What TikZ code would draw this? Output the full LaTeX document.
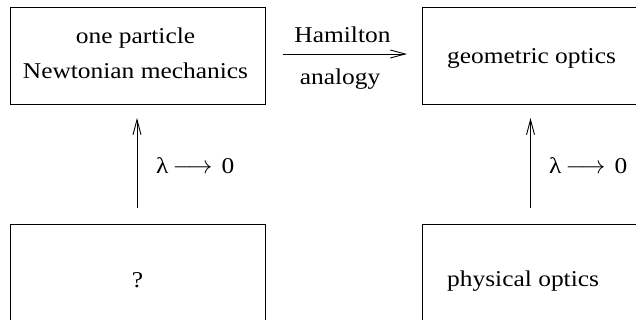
\documentclass[tikz,border=0pt]{standalone}
\usepackage{fontspec}
\setmainfont[FakeStretch=1.125]{Liberation Serif}
\usetikzlibrary{arrows.meta}
\begin{document}
\begin{tikzpicture}[x=1pt,y=-1pt,
  lbl/.style={font=\fontsize{22.6}{35}\selectfont, inner sep=0pt, anchor=base},
  conn/.style={-{Straight Barb[length=15pt,width=8pt]}, line width=0.9pt},
  boxst/.style={draw, line width=0.9pt}]
\useasboundingbox (0,0) rectangle (636,320);
\clip (0,0) rectangle (636,320);
% boxes
\draw[boxst] (10.5,7) rectangle (265,104);
\draw[boxst] (422,7) rectangle (700,104);
\draw[boxst] (10.5,224) rectangle (265,380);
\draw[boxst] (422,224) rectangle (700,380);
% texts
\node[lbl] (one) at (135.5,44) {one particle};
\node[lbl] (npm) at (135.5,79) {Newtonian mechanics};
\node[lbl, anchor=base west] (geo) at (447,64) {geometric optics};
\node[lbl] (qm) at (137.5,287) {?};
\node[lbl, anchor=base west] (phys) at (447,286) {physical optics};
% connector endpoints
\coordinate (h1) at (283,54);
\coordinate (h2) at (407,54);
\coordinate (l1) at (137,208);
\coordinate (l2) at (137,118);
\coordinate (r1) at (530.5,208);
\coordinate (r2) at (530.5,118);
\draw[conn] (h1) -- (h2);
\draw[conn] (l1) -- (l2);
\draw[conn] (r1) -- (r2);
\node[lbl] (ham) at (342.5,43) {Hamilton};
\node[lbl] (ana) at (340,85) {analogy};
\node[lbl, anchor=base west] (lamL) at (156,174) {λ\hspace{4pt}\resizebox{40pt}{!}{$\longrightarrow$}\hspace{9pt}0};
\node[lbl, anchor=base west] (lamR) at (549,174) {λ\hspace{4pt}\resizebox{40pt}{!}{$\longrightarrow$}\hspace{9pt}0};
\end{tikzpicture}
\end{document}
